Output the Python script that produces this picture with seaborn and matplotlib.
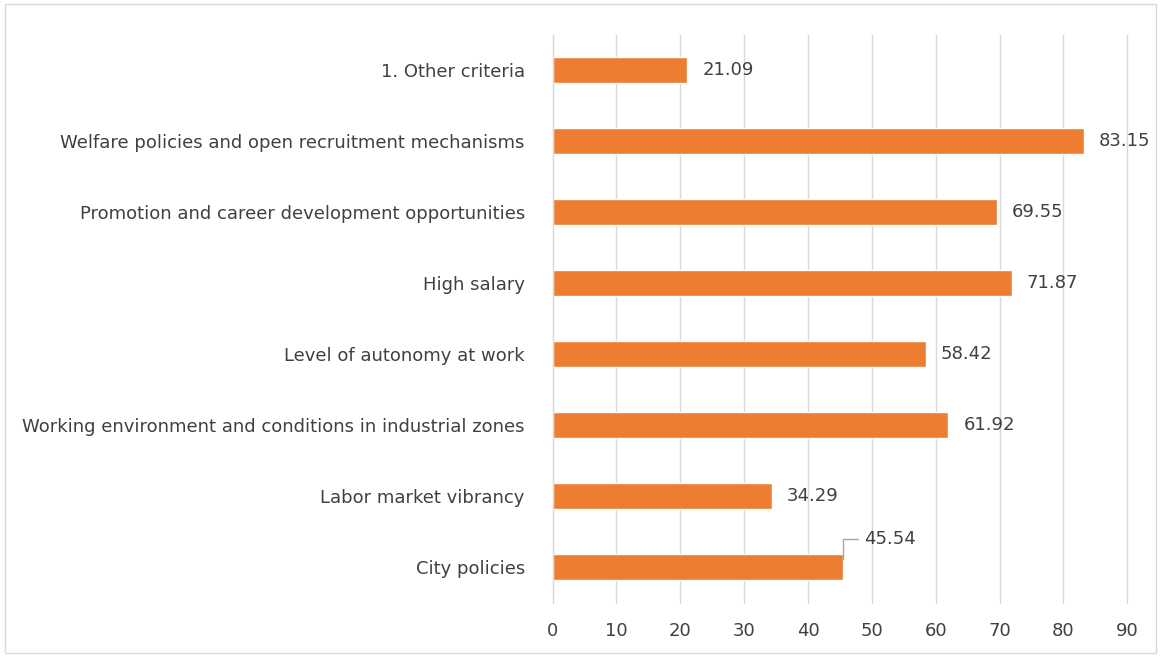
import matplotlib
matplotlib.use("Agg")
import matplotlib.pyplot as plt
import seaborn as sns
import pandas as pd
from matplotlib.patches import Rectangle

# Dados do gráfico (de cima para baixo)
categorias = [
    "1. Other criteria",
    "Welfare policies and open recruitment mechanisms",
    "Promotion and career development opportunities",
    "High salary",
    "Level of autonomy at work",
    "Working environment and conditions in industrial zones",
    "Labor market vibrancy",
    "City policies",
]
valores = [21.09, 83.15, 69.55, 71.87, 58.42, 61.92, 34.29, 45.54]
ticks_x = [0, 10, 20, 30, 40, 50, 60, 70, 80, 90]

df = pd.DataFrame({"Categoria": categorias, "Valor": valores})

sns.set_style("white")
plt.rcParams['font.family'] = ['DejaVu Sans']

fig = plt.figure(figsize=(11.61, 6.56), dpi=100)
ax = fig.add_axes([0.476, 0.081, 0.495, 0.866])

sns.barplot(data=df, x="Valor", y="Categoria", color="#ED7D31",
            width=0.37, saturation=1, ax=ax, errorbar=None)

ax.set_xlim(0, 90)
ax.set_xticks(ticks_x)
ax.set_xticklabels([str(t) for t in ticks_x], fontsize=13, color="#404040")
ax.tick_params(axis="y", labelsize=13, colors="#404040", length=0, pad=20)
ax.tick_params(axis="x", length=0, pad=14)
ax.set_xlabel("")
ax.set_ylabel("")
ax.grid(axis="x", color="#D9D9D9", linewidth=1)
for gl in ax.get_xgridlines():
    gl.set_clip_on(False)
ax.set_axisbelow(True)
for s in ["top", "right", "bottom"]:
    ax.spines[s].set_visible(False)
ax.spines["left"].set_color("#D9D9D9")
ax.set_ylim(len(categorias) - 0.5, -0.5)

# Rótulos de dados
for i, v in enumerate(valores):
    if categorias[i] == "City policies":
        ax.annotate(f"{v:.2f}", xy=(v, i - 0.12), xytext=(15, 14),
                    textcoords="offset points", va="center", ha="left",
                    fontsize=13, color="#404040",
                    arrowprops=dict(arrowstyle="-", color="#A6A6A6", lw=1,
                                    shrinkA=2, shrinkB=0,
                                    connectionstyle="angle,angleA=0,angleB=90,rad=0"))
    else:
        ax.text(v + 2.4, i, f"{v:.2f}", va="center", ha="left",
                fontsize=13, color="#404040")

# Borda do gráfico
fig.patches.append(Rectangle((0.004, 0.004), 0.992, 0.99, transform=fig.transFigure,
                             fill=False, edgecolor="#D9D9D9", lw=1))

fig.savefig("out.png", dpi=100)
